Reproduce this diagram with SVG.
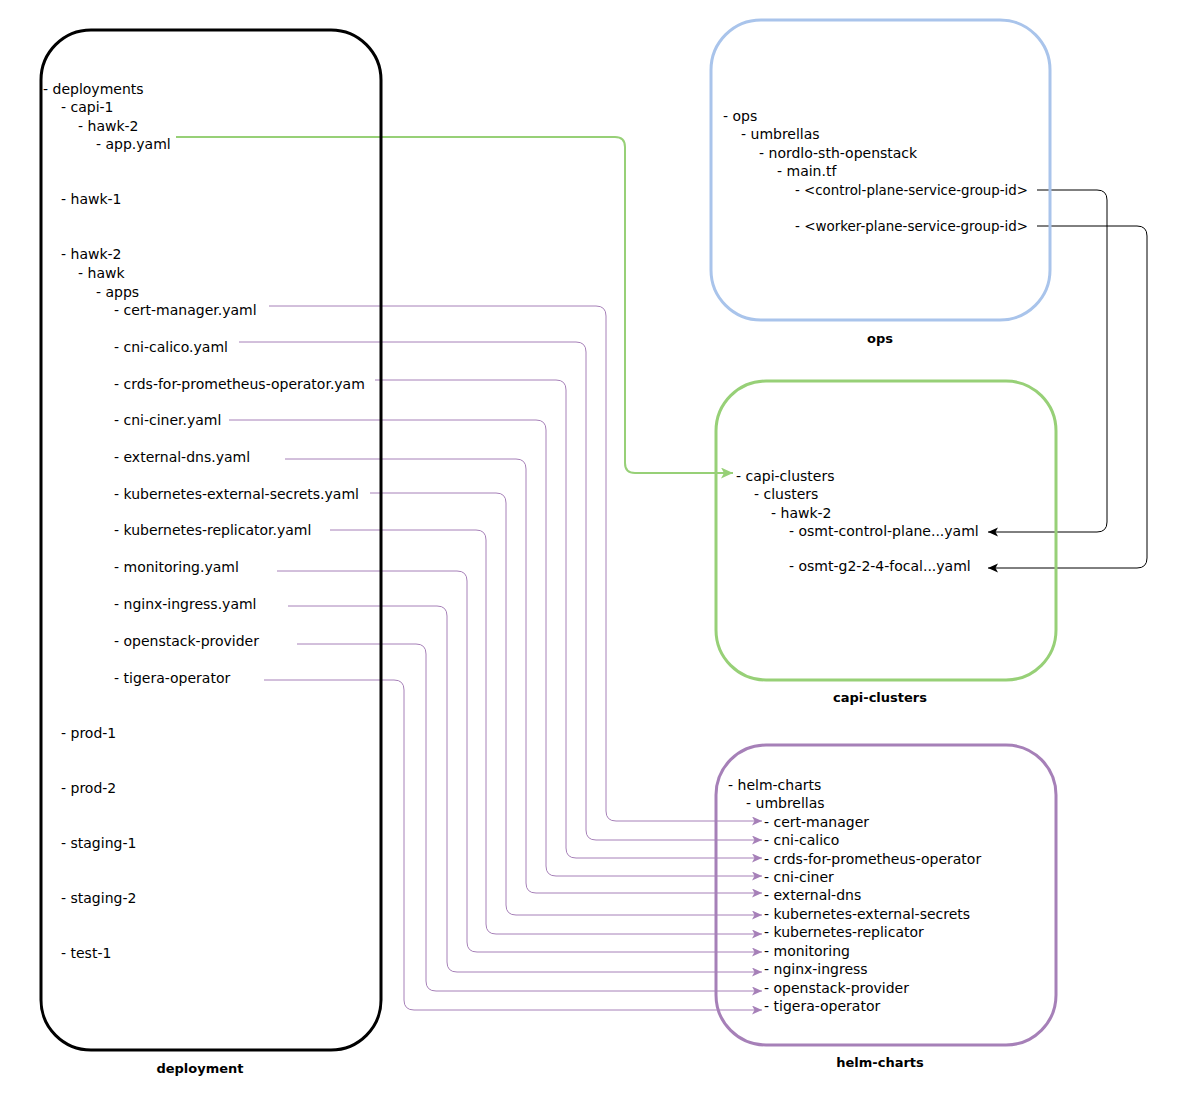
<svg xmlns="http://www.w3.org/2000/svg" width="1181" height="1101" viewBox="0 0 1181 1101">
<style>
  .t { font-family: "DejaVu Sans", "Liberation Sans", sans-serif; font-size: 14px; fill: #000; }
  .lbl { font-family: "DejaVu Sans", "Liberation Sans", sans-serif; font-size: 13px; font-weight: bold; fill: #000; text-anchor: middle; }
  .box { fill: none; stroke-width: 3; }
  .pc { fill: none; stroke: #A680B8; stroke-width: 1; marker-end: url(#ap); }
  .gc { fill: none; stroke: #97D077; stroke-width: 2; marker-end: url(#ag); }
  .bc { fill: none; stroke: #000; stroke-width: 1; marker-end: url(#ab); }
</style>
<defs>
  <marker id="ap" markerUnits="userSpaceOnUse" markerWidth="12" markerHeight="10" refX="10" refY="4.5" orient="auto" viewBox="0 0 12 10">
    <path d="M0,0 L10,4.5 L0,9 L2.5,4.5 Z" fill="#A680B8"/>
  </marker>
  <marker id="ag" markerUnits="userSpaceOnUse" markerWidth="14" markerHeight="12" refX="12" refY="5.5" orient="auto" viewBox="0 0 14 12">
    <path d="M0,0 L12,5.5 L0,11 L3,5.5 Z" fill="#97D077"/>
  </marker>
  <marker id="ab" markerUnits="userSpaceOnUse" markerWidth="12" markerHeight="10" refX="10" refY="4.5" orient="auto" viewBox="0 0 12 10">
    <path d="M0,0 L10,4.5 L0,9 L2.5,4.5 Z" fill="#000"/>
  </marker>
</defs>
<rect width="1181" height="1101" fill="#fff"/>

<g id="connectors">
  <path class="gc" d="M176,137 H615 Q625,137 625,147 V463 Q625,473 635,473 H733"/>
  <path class="bc" d="M1037,190 H1097 Q1107,190 1107,200 V522 Q1107,532 1097,532 H988"/>
  <path class="bc" d="M1037,226 H1137 Q1147,226 1147,236 V558 Q1147,568 1137,568 H988"/>
  <path class="pc" d="M269,306 H596 Q606,306 606,316 V811 Q606,821 616,821 H762"/>
  <path class="pc" d="M239,342 H576 Q586,342 586,352 V830 Q586,840 596,840 H762"/>
  <path class="pc" d="M375,380 H556 Q566,380 566,390 V848 Q566,858 576,858 H762"/>
  <path class="pc" d="M229,420 H536 Q546,420 546,430 V866 Q546,876 556,876 H762"/>
  <path class="pc" d="M285,459 H516 Q526,459 526,469 V883 Q526,893 536,893 H762"/>
  <path class="pc" d="M370,493 H496 Q506,493 506,503 V905 Q506,915 516,915 H762"/>
  <path class="pc" d="M330,530 H476 Q486,530 486,540 V924 Q486,934 496,934 H762"/>
  <path class="pc" d="M277,571 H457 Q467,571 467,581 V942 Q467,952 477,952 H762"/>
  <path class="pc" d="M288,606 H437 Q447,606 447,616 V962 Q447,972 457,972 H762"/>
  <path class="pc" d="M297,644 H416 Q426,644 426,654 V981 Q426,991 436,991 H762"/>
  <path class="pc" d="M264,680 H394 Q404,680 404,690 V1000 Q404,1010 414,1010 H762"/>
</g>

<g id="deployment">
  <rect class="box" x="41" y="30" width="340" height="1020" rx="50" ry="50" stroke="#000"/>
  <text class="t" x="43" y="94">- deployments</text>
  <text class="t" x="61" y="112">- capi-1</text>
  <text class="t" x="78" y="131">- hawk-2</text>
  <text class="t" x="96" y="149">- app.yaml</text>
  <text class="t" x="61" y="204">- hawk-1</text>
  <text class="t" x="61" y="259">- hawk-2</text>
  <text class="t" x="78" y="278">- hawk</text>
  <text class="t" x="96" y="297">- apps</text>
  <text class="t" x="114" y="315">- cert-manager.yaml</text>
  <text class="t" x="114" y="352">- cni-calico.yaml</text>
  <text class="t" x="114" y="389">- crds-for-prometheus-operator.yam</text>
  <text class="t" x="114" y="425">- cni-ciner.yaml</text>
  <text class="t" x="114" y="462">- external-dns.yaml</text>
  <text class="t" x="114" y="499">- kubernetes-external-secrets.yaml</text>
  <text class="t" x="114" y="535">- kubernetes-replicator.yaml</text>
  <text class="t" x="114" y="572">- monitoring.yaml</text>
  <text class="t" x="114" y="609">- nginx-ingress.yaml</text>
  <text class="t" x="114" y="646">- openstack-provider</text>
  <text class="t" x="114" y="683">- tigera-operator</text>
  <text class="t" x="61" y="738">- prod-1</text>
  <text class="t" x="61" y="793">- prod-2</text>
  <text class="t" x="61" y="848">- staging-1</text>
  <text class="t" x="61" y="903">- staging-2</text>
  <text class="t" x="61" y="958">- test-1</text>
  <text class="lbl" x="200" y="1073">deployment</text>
</g>

<g id="ops">
  <rect class="box" x="711" y="20" width="339" height="300" rx="50" ry="50" stroke="#A9C4EB"/>
  <text class="t" x="723" y="121">- ops</text>
  <text class="t" x="741" y="139">- umbrellas</text>
  <text class="t" x="759" y="158">- nordlo-sth-openstack</text>
  <text class="t" x="777" y="176">- main.tf</text>
  <text class="t" x="795" y="195" textLength="233" lengthAdjust="spacingAndGlyphs">- &lt;control-plane-service-group-id&gt;</text>
  <text class="t" x="795" y="231" textLength="233" lengthAdjust="spacingAndGlyphs">- &lt;worker-plane-service-group-id&gt;</text>
  <text class="lbl" x="880" y="343">ops</text>
</g>

<g id="capi-clusters">
  <rect class="box" x="716" y="381" width="340" height="299" rx="50" ry="50" stroke="#97D077"/>
  <text class="t" x="736" y="481">- capi-clusters</text>
  <text class="t" x="754" y="499">- clusters</text>
  <text class="t" x="771" y="518">- hawk-2</text>
  <text class="t" x="789" y="536">- osmt-control-plane...yaml</text>
  <text class="t" x="789" y="571">- osmt-g2-2-4-focal...yaml</text>
  <text class="lbl" x="880" y="702">capi-clusters</text>
</g>

<g id="helm-charts">
  <rect class="box" x="716" y="745" width="340" height="300" rx="50" ry="50" stroke="#A680B8"/>
  <text class="t" x="728" y="790">- helm-charts</text>
  <text class="t" x="746" y="808">- umbrellas</text>
  <text class="t" x="764" y="827">- cert-manager</text>
  <text class="t" x="764" y="845">- cni-calico</text>
  <text class="t" x="764" y="864">- crds-for-prometheus-operator</text>
  <text class="t" x="764" y="882">- cni-ciner</text>
  <text class="t" x="764" y="900">- external-dns</text>
  <text class="t" x="764" y="919">- kubernetes-external-secrets</text>
  <text class="t" x="764" y="937">- kubernetes-replicator</text>
  <text class="t" x="764" y="956">- monitoring</text>
  <text class="t" x="764" y="974">- nginx-ingress</text>
  <text class="t" x="764" y="993">- openstack-provider</text>
  <text class="t" x="764" y="1011">- tigera-operator</text>
  <text class="lbl" x="880" y="1067">helm-charts</text>
</g>
</svg>
